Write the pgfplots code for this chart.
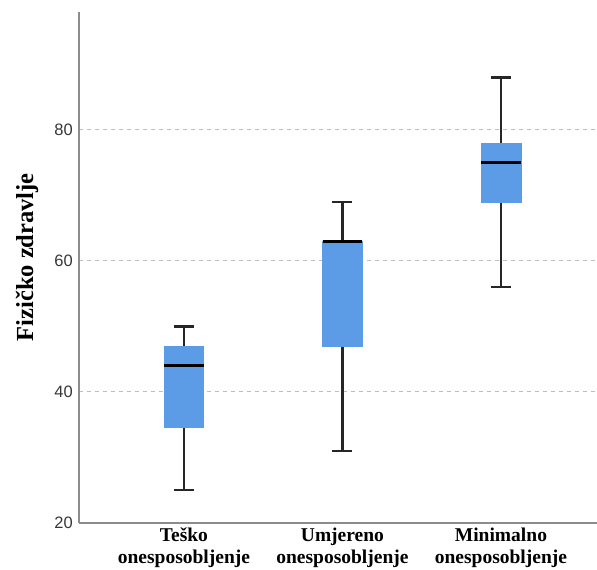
\documentclass[border=0pt]{standalone}
\usepackage{fontspec}
\setmainfont{Liberation Serif}
\newfontfamily\arialfont{Liberation Sans}
\usepackage{pgfplots}
\pgfplotsset{compat=1.18}
\usetikzlibrary{calc}
\definecolor{boxblue}{RGB}{92,156,230}
\definecolor{axisgray}{RGB}{140,140,140}
\definecolor{gridgray}{RGB}{190,190,190}
\definecolor{ticktext}{RGB}{55,55,55}
\pgfplotsset{
  whisk/.style={draw=black!85, line width=2.3pt, mark=none},
  boxf/.style={fill=boxblue, draw=boxblue, line width=0.5pt, mark=none},
  med/.style={draw=black, line width=3pt, mark=none},
}
\begin{document}
\begin{tikzpicture}
\begin{axis}[
  scale only axis,
  width=518pt, height=511pt,
  xmin=0.338, xmax=3.606,
  ymin=20, ymax=98,
  axis x line=bottom, axis y line=left,
  axis line style={-, draw=axisgray, line width=1.3pt},
  xtick={1,2,3},
  xticklabels={Teško\\onesposobljenje, Umjereno\\onesposobljenje, Minimalno\\onesposobljenje},
  xticklabel style={align=center, font=\fontsize{19.5}{21.5}\selectfont\bfseries, text=black, inner sep=0pt, yshift=-5pt},
  ytick={20,40,60,80},
  yticklabel style={font=\fontsize{16.5}{16.5}\selectfont\arialfont, text=ticktext, inner sep=0pt, xshift=-6pt},
  /pgf/number format/assume math mode=true,
  major tick length=0pt,
  tick style={draw=none},
  ymajorgrids,
  grid style={draw=gridgray, dash pattern=on 4pt off 4pt, line width=1pt},
  ylabel={Fizičko zdravlje},
  ylabel style={font=\fontsize{24.5}{24.5}\selectfont\bfseries, at={(axis description cs:-0.1,0.52)}, anchor=center},
]
% Group 1: Teško onesposobljenje (min 25, Q1 34.6, median 44, Q3 47, max 50)
\addplot[whisk] coordinates {(1,25) (1,34.6)};
\addplot[whisk] coordinates {(1,47) (1,50)};
\addplot[whisk] coordinates {(0.937,25) (1.063,25)};
\addplot[whisk] coordinates {(0.937,50) (1.063,50)};
\addplot[boxf] coordinates {(0.875,34.6) (1.125,34.6) (1.125,47) (0.875,47)} -- cycle;
\addplot[med] coordinates {(0.875,44) (1.125,44)};
% Group 2: Umjereno onesposobljenje (min 31, Q1 47, median 63, Q3 63, max 69)
\addplot[whisk] coordinates {(2,31) (2,47)};
\addplot[whisk] coordinates {(2,63) (2,69)};
\addplot[whisk] coordinates {(1.937,31) (2.063,31)};
\addplot[whisk] coordinates {(1.937,69) (2.063,69)};
\addplot[boxf] coordinates {(1.875,47) (2.125,47) (2.125,63) (1.875,63)} -- cycle;
\addplot[med] coordinates {(1.875,63) (2.125,63)};
% Group 3: Minimalno onesposobljenje (min 56, Q1 69, median 75, Q3 78, max 88)
\addplot[whisk] coordinates {(3,56) (3,69)};
\addplot[whisk] coordinates {(3,78) (3,88)};
\addplot[whisk] coordinates {(2.937,56) (3.063,56)};
\addplot[whisk] coordinates {(2.937,88) (3.063,88)};
\addplot[boxf] coordinates {(2.875,69) (3.125,69) (3.125,78) (2.875,78)} -- cycle;
\addplot[med] coordinates {(2.875,75) (3.125,75)};
\coordinate (LL) at (rel axis cs:0,0);
\coordinate (UR) at (rel axis cs:1,1);
\end{axis}
\pgfresetboundingbox
\path[use as bounding box] ($(LL)+(-79pt,-47pt)$) rectangle ($(UR)+(0pt,12pt)$);
\end{tikzpicture}
\end{document}
